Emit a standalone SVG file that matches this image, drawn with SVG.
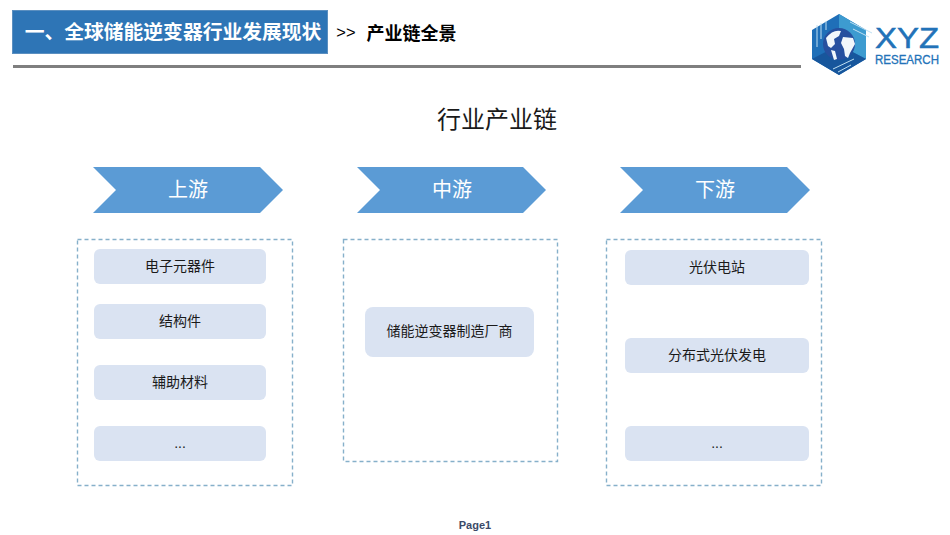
<svg xmlns="http://www.w3.org/2000/svg" width="950" height="535" viewBox="0 0 950 535">
<style>
text{font-family:"Liberation Sans","Noto Sans CJK SC",sans-serif;text-anchor:middle}
.cn{font-family:"Noto Sans CJK SC","Liberation Sans",sans-serif}
.box{fill:#fff;stroke:#86b0ca;stroke-width:1.4;stroke-dasharray:4 3}
.item{fill:#dae3f2}
.it{font-size:14px;fill:#1a1a1a}
.ch{fill:#5b9bd5}
.cht{font-size:20px;fill:#fff}
</style>
<rect width="950" height="535" fill="#fff"/>
<g id="header">
<rect x="12.500" y="10.500" width="315" height="43" fill="#2e75b6" stroke="#5b8fc0"/>
<text class="cn" x="173" y="39" font-size="19.800" font-weight="700" fill="#fff">一、全球储能逆变器行业发展现状</text>
<text x="346" y="38" font-size="16.500" fill="#000">&gt;&gt;</text>
<text class="cn" x="411.500" y="40" font-size="18" font-weight="700" fill="#000">产业链全景</text>
<rect x="13" y="65" width="788" height="3" fill="#7f7f7f"/>
</g>
<g id="logo">
<polygon points="839,14 866,30 866,59 839,75 812,59 812,30" fill="#1f6fb8"/>
<polygon points="839,14 866,30 866,59 839,45" fill="#3d9bd0"/>
<polygon points="812,59 839,45 866,59 839,75" fill="#17569c"/>
<circle cx="839" cy="44" r="16" fill="#27509f"/>
<path d="M826 38q7-9 15-7l-2 5-5 3 1 5-4 4-3-2zM831 50l4 1 2 8-3 1zM843 37l10 1 2 6-5 9-2 5-3-2-1-7-3-6z" fill="#f2f7fb"/>
<path d="M817 25l0 22M821 23l0 16M826 21l0 9M850 22l22 11M853 29l16 8M833 69l21-10M838 72l13-7" stroke="#bfe0f2" stroke-width="1" fill="none"/>
<text x="907" y="48" font-size="30" fill="#2272b8" stroke="#2272b8" stroke-width=".5" textLength="64" lengthAdjust="spacingAndGlyphs">XYZ</text>
<text x="907" y="64" font-size="12.500" fill="#2272b8" stroke="#2272b8" stroke-width=".3" textLength="64" lengthAdjust="spacingAndGlyphs">RESEARCH</text>
</g>
<text id="title" class="cn" x="497" y="128" font-size="24" fill="#1a1a1a">行业产业链</text>
<g id="upstream-head"><polygon class="ch" points="93,167 260,167 283,190 260,213 93,213 116,190"/><text class="cn cht" x="188" y="196.500">上游</text></g>
<g id="midstream-head"><polygon class="ch" points="357,167 523,167 546,190 523,213 357,213 380,190"/><text class="cn cht" x="452" y="196.500">中游</text></g>
<g id="downstream-head"><polygon class="ch" points="620,167 787,167 810,190 787,213 620,213 643,190"/><text class="cn cht" x="715" y="196.500">下游</text></g>
<g id="connectors"/>
<g id="upstream">
<rect class="box" x="77.500" y="239.500" width="215" height="246"/>
<g id="n-electronic"><rect class="item" x="94" y="249" width="172" height="35" rx="6"/><text class="cn it" x="180" y="271">电子元器件</text></g>
<g id="n-structure"><rect class="item" x="94" y="304" width="172" height="35" rx="6"/><text class="cn it" x="180" y="326">结构件</text></g>
<g id="n-aux"><rect class="item" x="94" y="365" width="172" height="35" rx="6"/><text class="cn it" x="180" y="387">辅助材料</text></g>
<g id="n-up-more"><rect class="item" x="94" y="426" width="172" height="35" rx="6"/><text class="it" x="180" y="448">...</text></g>
</g>
<g id="midstream">
<rect class="box" x="343.500" y="239.500" width="214" height="222"/>
<g id="n-maker"><rect class="item" x="365" y="307" width="169" height="50" rx="8"/><text class="cn it" x="449.500" y="336">储能逆变器制造厂商</text></g>
</g>
<g id="downstream">
<rect class="box" x="606.500" y="239.500" width="215" height="246"/>
<g id="n-pv"><rect class="item" x="625" y="250" width="184" height="35" rx="6"/><text class="cn it" x="717" y="272">光伏电站</text></g>
<g id="n-dist"><rect class="item" x="625" y="338" width="184" height="35" rx="6"/><text class="cn it" x="717" y="360">分布式光伏发电</text></g>
<g id="n-down-more"><rect class="item" x="625" y="426" width="184" height="35" rx="6"/><text class="it" x="717" y="448">...</text></g>
</g>
<text id="page" x="475" y="529" font-size="11" font-weight="700" fill="#3b4a68">Page1</text>
</svg>
